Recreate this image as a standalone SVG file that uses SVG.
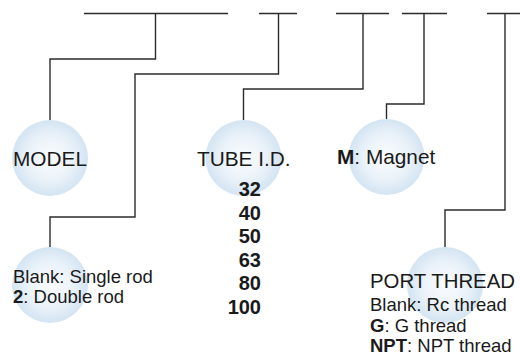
<svg xmlns="http://www.w3.org/2000/svg" width="520" height="355" viewBox="0 0 520 355">
<style>
.ln{fill:none;stroke:#2b2b2b;stroke-width:1.4}
.bubble{fill:url(#g)}
.t{font-family:"Liberation Sans",Arial,sans-serif;fill:#1a1a1a}
.h{font-size:20.8px}
.p{font-size:20.4px}
.d{font-size:18.5px}
.b{font-weight:bold}
.n{font-size:20px;font-weight:bold;text-anchor:end}
</style>
<defs>
<radialGradient id="g" cx="50%" cy="50%" r="50%">
<stop offset="0" stop-color="#fafcfe"/>
<stop offset="0.6" stop-color="#eaf2f9"/>
<stop offset="1" stop-color="#d3e4f2"/>
</radialGradient>
</defs>
<rect width="520" height="355" fill="#ffffff"/>
<g id="connectors">
<path class="ln" d="M84 13.5H228M259 13.5H297M336 13.5H389M402 13.5H447M487 13.5H520"/>
<path class="ln" d="M155.5 13.5V59H50V120"/>
<path class="ln" d="M278.5 13.5V74H135V217H50V247"/>
<path class="ln" d="M363 13.5V89H243.5V120"/>
<path class="ln" d="M424 13.5V104H386.5V119"/>
<path class="ln" d="M505 13.5V210H445V248"/>
</g>
<g id="model">
<circle class="bubble" cx="50" cy="158" r="38"/>
<text class="t h" x="13" y="165.5">MODEL</text>
</g>
<g id="tube">
<circle class="bubble" cx="243.5" cy="158" r="38"/>
<text class="t h" x="197" y="166">TUBE I.D.</text>
<text class="t n" x="261" y="196">32</text>
<text class="t n" x="261" y="219.5">40</text>
<text class="t n" x="261" y="243">50</text>
<text class="t n" x="261" y="266.5">63</text>
<text class="t n" x="261" y="290">80</text>
<text class="t n" x="261" y="313.5">100</text>
</g>
<g id="magnet">
<circle class="bubble" cx="386.5" cy="157" r="38"/>
<text class="t h" x="337" y="164"><tspan class="b">M</tspan>: Magnet</text>
</g>
<g id="rod">
<circle class="bubble" cx="50" cy="285" r="38"/>
<text class="t d" x="13" y="283">Blank: Single rod</text>
<text class="t d" x="13" y="303"><tspan class="b">2</tspan>: Double rod</text>
</g>
<g id="port">
<circle class="bubble" cx="445" cy="285" r="38"/>
<text class="t p" x="370" y="288">PORT THREAD</text>
<text class="t d" x="370" y="311">Blank: Rc thread</text>
<text class="t d" x="370" y="332"><tspan class="b">G</tspan>: G thread</text>
<text class="t d" x="370" y="352"><tspan class="b">NPT</tspan>: NPT thread</text>
</g>
</svg>
